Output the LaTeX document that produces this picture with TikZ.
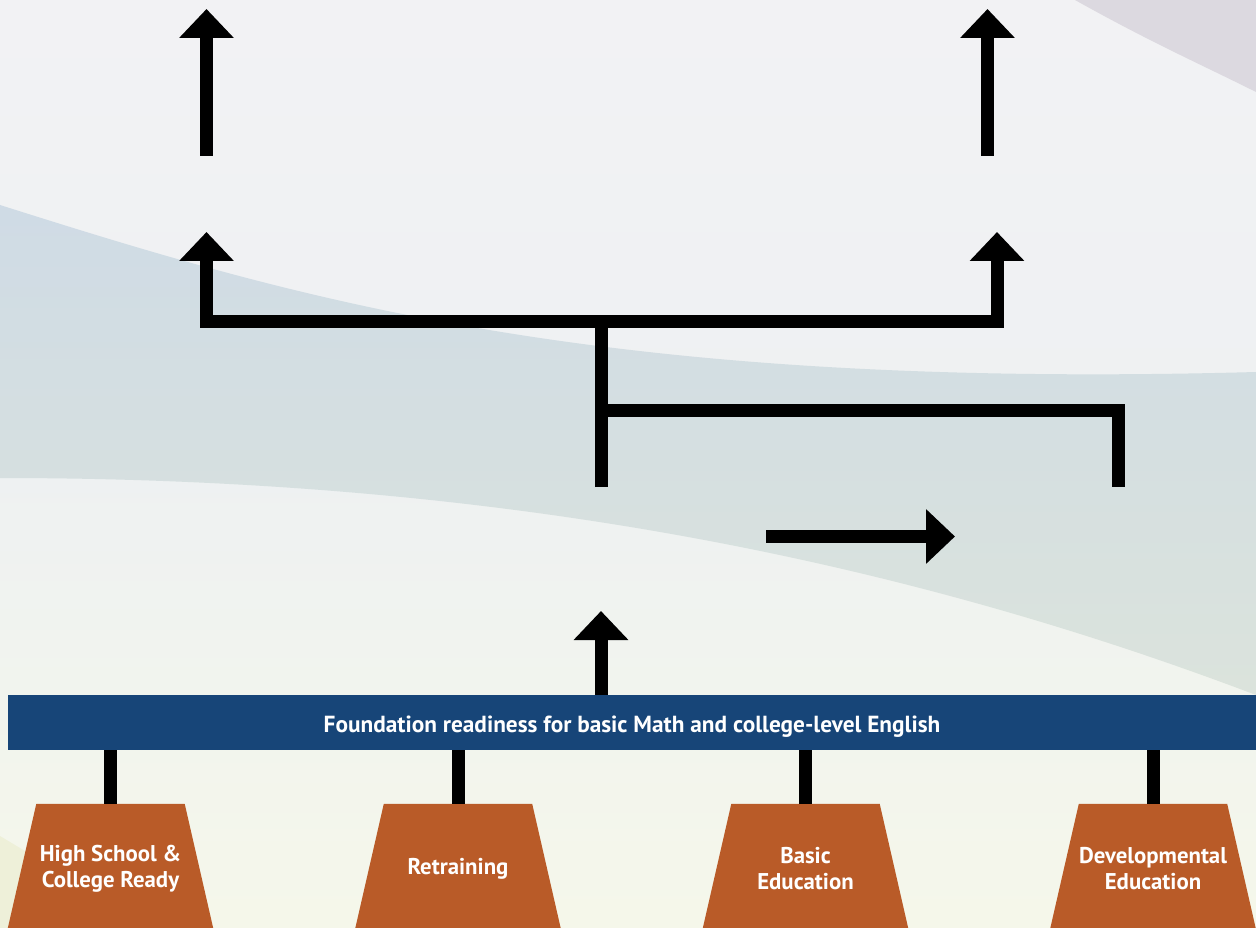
\documentclass[tikz,border=0pt]{standalone}
\usepackage{fontspec}
\setmainfont{PT Sans}
\usetikzlibrary{arrows.meta}
\definecolor{barblue}{HTML}{174578}
\definecolor{boxorange}{HTML}{B95B28}
\definecolor{bgtop}{HTML}{F2F2F4}
\definecolor{bgmid}{HTML}{EEF1F2}
\definecolor{bgbot}{HTML}{F5F7EA}
\definecolor{bandtop}{HTML}{CFDBE5}
\definecolor{bandbot}{HTML}{DBE3DC}
\definecolor{cornerc}{HTML}{DCD9E0}
\definecolor{wedgec}{HTML}{EEF0D9}
\pgfdeclarelayer{back}
\pgfdeclarelayer{mid}
\pgfsetlayers{back,mid,main}
\begin{document}
\begin{tikzpicture}[x=1pt,y=-1pt,
  flow/.style={line width=13pt, line join=miter, line cap=butt, draw=black},
  head/.style={-{Triangle[width=53pt,length=29pt]}},
  twoheads/.style={{Triangle[width=53pt,length=29pt]}-{Triangle[width=53pt,length=29pt]}},
  barbox/.style={fill=barblue, text=white, font=\bfseries\fontsize{23.3}{27}\selectfont,
    minimum width=1248pt, minimum height=55pt, inner sep=0pt, text height=19pt, text depth=0pt},
  pathbox/.style={minimum width=148pt, minimum height=130pt, text=white,
    align=center, font=\bfseries\fontsize{22.8}{26}\selectfont, inner sep=0pt},
  trap/.style={fill=boxorange}]
\useasboundingbox (0,0) rectangle (1256,928);
\begin{scope}
\clip (0,0) rectangle (1256,928);
% background
\begin{pgfonlayer}{back}
\shade[top color=bgtop, bottom color=bgbot, middle color=bgmid] (0,0) rectangle (1256,928);
\fill[cornerc] (1075,0) .. controls (1150,42) and (1200,64) .. (1256,92) -- (1256,0) -- cycle;
\shade[top color=bandtop, bottom color=bandbot]
  (0,205) .. controls (300,300) and (600,390) .. (1256,372)
  -- (1256,695) .. controls (900,560) and (500,478) .. (0,478) -- cycle;
\fill[wedgec] (0,836) -- (60,872) -- (60,928) -- (0,928) -- cycle;
\end{pgfonlayer}

% nodes
\node[barbox] (bar) at (632,722.5) {Foundation readiness for basic Math and college-level English};
\node[pathbox] (hs) at (110.5,869) {High School \&\\College Ready};
\node[pathbox] (rt) at (458,869) {Retraining};
\node[pathbox] (be) at (805.5,869) {Basic\\Education};
\node[pathbox] (de) at (1153,869) {Developmental\\Education};

% trapezoid bodies
\begin{pgfonlayer}{mid}
\foreach \n in {hs,rt,be,de}
  \fill[trap] (\n.north west) -- (\n.north east) -- ([xshift=29.9pt]\n.south east)
    -- ([xshift=-29.9pt]\n.south west) -- cycle;
\end{pgfonlayer}

% stubs
\foreach \n in {hs,rt,be,de}
  \draw[flow] (\n.north) -- (\n.north |- bar.south);

% coordinates
\coordinate (tl) at (206.5,9);
\coordinate (tlb) at (206.5,156);
\coordinate (tr) at (987.5,9);
\coordinate (trb) at (987.5,156);
\coordinate (lt) at (206.5,232);
\coordinate (lc) at (206.5,321.5);
\coordinate (rc) at (997,321.5);
\coordinate (rtip) at (997,232);
\coordinate (sb) at (601,487);
\coordinate (sj) at (601,321.5);
\coordinate (hb) at (601,410);
\coordinate (hc) at (1118.5,410);
\coordinate (hd) at (1118.5,487);
\coordinate (ra) at (766,536.5);
\coordinate (rb) at (955,536.5);
\coordinate (mt) at (601,611);

% arrows
\draw[flow,head] (tlb) -- (tl);
\draw[flow,head] (trb) -- (tr);
\draw[flow,twoheads] (lt) -- (lc) -- (rc) -- (rtip);
\draw[flow] (sb) -- (sj);
\draw[flow] (hb) -- (hc) -- (hd);
\draw[flow,head] (ra) -- (rb);
\draw[flow,head] (mt |- bar.north) -- (mt);
\end{scope}
\end{tikzpicture}
\end{document}
